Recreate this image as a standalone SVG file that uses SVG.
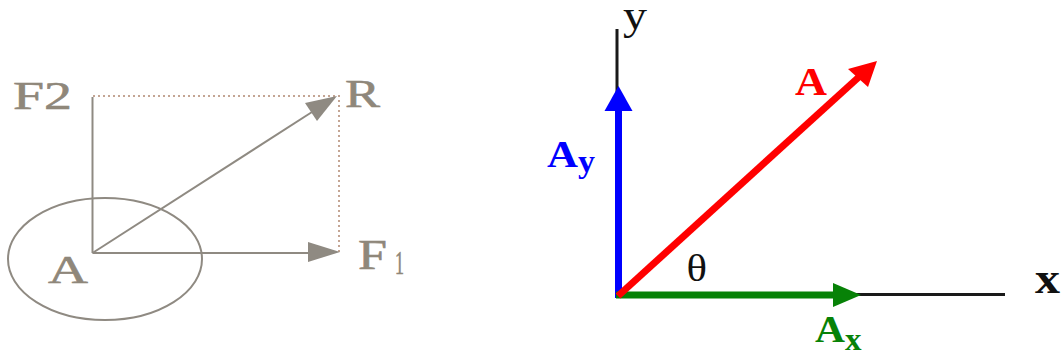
<svg xmlns="http://www.w3.org/2000/svg" width="1061" height="356" viewBox="0 0 1061 356">
<style>
.lt{font-family:"Liberation Serif","Times New Roman",serif;fill:#8f877a;stroke:#8f877a;stroke-width:0.6}
.rt{font-family:"Liberation Serif","Times New Roman",serif}
.b{font-weight:bold}
.gl{stroke:#8f8a82;stroke-width:2;fill:none}
.dot{stroke:#c4a594;stroke-width:2;stroke-dasharray:2 3;fill:none}
</style>
<rect width="1061" height="356" fill="#ffffff"/>
<g id="left-diagram">
  <g id="body-A">
    <ellipse cx="105" cy="259" rx="97" ry="61" class="gl" stroke-width="1.6"/>
    <text class="lt" x="48" y="283" font-size="40" textLength="40" lengthAdjust="spacingAndGlyphs">A</text>
  </g>
  <g id="parallelogram">
    <path class="dot" d="M93 96 H339 V252"/>
  </g>
  <g id="connectors-left">
    <path class="gl" d="M92.5 253 V97"/>
    <path class="gl" d="M92.5 253 H310"/>
    <polygon points="340,252 308,242 308,262" fill="#8f8a82"/>
    <path class="gl" d="M92.5 253 L312 112"/>
    <polygon points="337,96 305,103 317,121" fill="#8f8a82"/>
  </g>
  <g id="label-F2"><text class="lt" x="13" y="109" font-size="40" textLength="59" lengthAdjust="spacingAndGlyphs">F2</text></g>
  <g id="label-R"><text class="lt" x="345" y="107" font-size="40" textLength="35" lengthAdjust="spacingAndGlyphs">R</text></g>
  <g id="label-F1">
    <text class="lt" x="358" y="269" font-size="43" textLength="29" lengthAdjust="spacingAndGlyphs">F</text>
    <text class="lt" x="395" y="274" font-size="34" textLength="9" lengthAdjust="spacingAndGlyphs">1</text>
  </g>
</g>
<g id="right-diagram">
  <g id="axes">
    <path d="M617 29 V298" stroke="#1a1a1a" stroke-width="3" fill="none"/>
    <path d="M617 294.5 H1005" stroke="#1a1a1a" stroke-width="3" fill="none"/>
    <text class="rt" x="623" y="29" font-size="43" fill="#111" textLength="24" lengthAdjust="spacingAndGlyphs">y</text>
    <text class="rt b" x="1035" y="293" font-size="44" fill="#111" textLength="25" lengthAdjust="spacingAndGlyphs">x</text>
  </g>
  <g id="vector-Ay">
    <path d="M618.5 298 V108" stroke="#0000ff" stroke-width="7" fill="none"/>
    <polygon points="618.5,86 604.5,111 632.5,111" fill="#0000ff"/>
    <text class="rt b" x="547" y="167" font-size="38" fill="#0000ff" textLength="31" lengthAdjust="spacingAndGlyphs">A</text>
    <text class="rt b" x="578" y="172" font-size="32" fill="#0000ff" textLength="17" lengthAdjust="spacingAndGlyphs">y</text>
  </g>
  <g id="vector-Ax">
    <path d="M616 295 H836" stroke="#078207" stroke-width="7" fill="none"/>
    <polygon points="861,295 833,283 833,307" fill="#078207"/>
    <text class="rt b" x="815" y="342" font-size="38" fill="#078207" textLength="30" lengthAdjust="spacingAndGlyphs">A</text>
    <text class="rt b" x="845" y="350" font-size="32" fill="#078207" textLength="16.5" lengthAdjust="spacingAndGlyphs">x</text>
  </g>
  <g id="vector-A">
    <path d="M618 296 L860 76" stroke="#ff0000" stroke-width="7" fill="none"/>
    <polygon points="877,61 848,69 868,87" fill="#ff0000"/>
    <text class="rt b" x="795" y="95" font-size="40" fill="#ff0000" textLength="32" lengthAdjust="spacingAndGlyphs">A</text>
  </g>
  <g id="angle-theta">
    <text class="rt" x="686.5" y="281" font-size="38" fill="#111" textLength="20.5" lengthAdjust="spacingAndGlyphs">θ</text>
  </g>
</g>
</svg>
